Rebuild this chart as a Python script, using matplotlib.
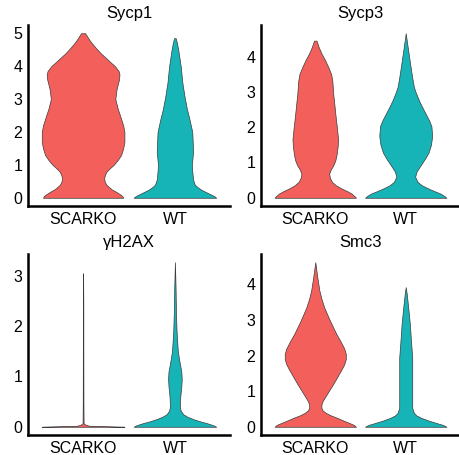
import matplotlib.pyplot as plt
import numpy as np

plt.rcParams["font.family"] = ["Liberation Sans", "DejaVu Sans"]

genes = ["Sycp1", "Sycp3", "γH2AX", "Smc3"]
groups = ["SCARKO", "WT"]
colors = ["#F3605C", "#17B4B7"]

# violin outlines: expression level -> relative half width (1 = widest)
sycp1_scarko_y = [0, 0.05, 0.1, 0.18, 0.25, 0.33, 0.4, 0.5, 0.6, 0.7, 0.8, 0.9, 1.0, 1.15, 1.3, 1.5, 1.7, 1.85,
                  2.0, 2.2, 2.4, 2.7, 3.0, 3.3, 3.6, 3.75, 3.85, 4.0, 4.1, 4.25, 4.4, 4.55, 4.7, 4.8, 4.9, 5.0]
sycp1_scarko_w = [0.97, 0.95, 0.90, 0.80, 0.70, 0.62, 0.56, 0.52, 0.51, 0.53, 0.57, 0.65, 0.74, 0.84, 0.92, 0.97, 1.0, 1.0,
                  1.0, 0.97, 0.92, 0.84, 0.78, 0.81, 0.87, 0.88, 0.86, 0.77, 0.68, 0.55, 0.42, 0.31, 0.21, 0.15, 0.10, 0.05]
sycp1_wt_y = [0, 0.05, 0.1, 0.18, 0.25, 0.33, 0.4, 0.55, 0.8, 1.0, 1.4, 2.0, 2.4, 2.7, 3.1, 3.5, 4.0, 4.5, 4.7, 4.85]
sycp1_wt_w = [1.0, 0.95, 0.87, 0.74, 0.63, 0.54, 0.48, 0.44, 0.42, 0.41, 0.44, 0.42, 0.35, 0.29, 0.23, 0.18, 0.14,
              0.08, 0.05, 0.02]

sycp3_scarko_y = [0, 0.05, 0.12, 0.19, 0.26, 0.35, 0.45, 0.56, 0.68, 0.8, 0.91, 1.05, 1.2, 1.45, 1.66, 2.0, 2.3,
                  2.96, 3.3, 3.5, 3.7, 3.9, 4.07, 4.25, 4.35, 4.45]
sycp3_scarko_w = [1.0, 0.96, 0.89, 0.78, 0.65, 0.51, 0.41, 0.36, 0.34, 0.38, 0.44, 0.49, 0.52, 0.55, 0.56, 0.53, 0.50,
                  0.44, 0.42, 0.39, 0.32, 0.24, 0.16, 0.09, 0.06, 0.03]
sycp3_wt_y = [0, 0.05, 0.12, 0.19, 0.26, 0.35, 0.45, 0.6, 0.75, 0.91, 1.1, 1.28, 1.5, 1.75, 2.03, 2.2, 2.4, 2.6,
              2.77, 3.0, 3.14, 3.4, 3.7, 4.17, 4.66]
sycp3_wt_w = [1.0, 0.95, 0.85, 0.70, 0.56, 0.40, 0.29, 0.23, 0.27, 0.36, 0.47, 0.56, 0.62, 0.65, 0.63, 0.57, 0.48, 0.39,
              0.32, 0.24, 0.20, 0.16, 0.12, 0.06, 0.0]

h2ax_scarko_y = [0, 0.01, 0.02, 0.04, 0.07, 0.5, 1.5, 2.5, 3.05]
h2ax_scarko_w = [1.0, 0.6, 0.15, 0.06, 0.012, 0.008, 0.006, 0.005, 0.0]
h2ax_wt_y = [0, 0.03, 0.07, 0.11, 0.15, 0.2, 0.25, 0.32, 0.4, 0.6, 0.8, 0.95, 1.1, 1.25, 1.5, 1.9, 2.3, 2.8, 3.27]
h2ax_wt_w = [1.0, 0.93, 0.78, 0.60, 0.45, 0.30, 0.20, 0.14, 0.12, 0.13, 0.155, 0.165, 0.155, 0.12, 0.07, 0.04,
             0.025, 0.015, 0.0]

smc3_scarko_y = [0, 0.05, 0.1, 0.17, 0.25, 0.32, 0.39, 0.46, 0.53, 0.62, 0.72, 0.85, 1.0, 1.2, 1.38, 1.6, 1.75,
                 1.9, 2.05, 2.2, 2.4, 2.6, 2.98, 3.35, 3.6, 3.83, 4.2, 4.62]
smc3_scarko_w = [1.0, 0.95, 0.85, 0.70, 0.54, 0.38, 0.26, 0.18, 0.15, 0.15, 0.18, 0.25, 0.33, 0.44, 0.53, 0.64, 0.71,
                 0.75, 0.75, 0.71, 0.62, 0.52, 0.36, 0.22, 0.15, 0.10, 0.05, 0.0]
smc3_wt_y = [0, 0.05, 0.1, 0.17, 0.25, 0.32, 0.39, 0.53, 1.0, 1.47, 1.94, 2.4, 2.9, 3.36, 3.73, 3.92]
smc3_wt_w = [1.0, 0.92, 0.77, 0.57, 0.38, 0.26, 0.20, 0.16, 0.16, 0.16, 0.16, 0.13, 0.10, 0.06, 0.025, 0.0]

violins = {
    "Sycp1": [(sycp1_scarko_y, sycp1_scarko_w), (sycp1_wt_y, sycp1_wt_w)],
    "Sycp3": [(sycp3_scarko_y, sycp3_scarko_w), (sycp3_wt_y, sycp3_wt_w)],
    "γH2AX": [(h2ax_scarko_y, h2ax_scarko_w), (h2ax_wt_y, h2ax_wt_w)],
    "Smc3": [(smc3_scarko_y, smc3_scarko_w), (smc3_wt_y, smc3_wt_w)],
}

W, H = 460, 455
fig = plt.figure(figsize=(W / 100, H / 100), dpi=100)
# panel boxes in pixels: left, right, top, bottom
boxes = [(28, 230, 25, 206), (261, 460, 25, 206), (28, 230, 254, 435), (261, 460, 254, 435)]

for gene, (l, r, t, b) in zip(genes, boxes):
    ax = fig.add_axes([l / W, 1 - b / H, (r - l) / W, (b - t) / H])
    top = 0.0
    for i, ((ys, ws), color) in enumerate(zip(violins[gene], colors)):
        ys = np.asarray(ys)
        hw = 0.45 * np.asarray(ws)
        ax.fill_betweenx(ys, i + 1 - hw, i + 1 + hw, facecolor=color, edgecolor="#3a3a3a", linewidth=0.5)
        top = max(top, ys.max())
    ax.set_xlim(0.4, 2.6)
    ax.set_ylim(-0.05 * top, 1.05 * top)
    ax.set_xticks([1, 2], groups)
    ax.set_yticks(range(int(top) + 1))
    ax.tick_params(length=0, labelsize=11.5, pad=4, colors="black")
    for side in ("top", "right"):
        ax.spines[side].set_visible(False)
    for side in ("left", "bottom"):
        ax.spines[side].set_linewidth(1.8)
    ax.set_title(gene, fontsize=12, pad=5)

fig.savefig("out.png", dpi=100)
